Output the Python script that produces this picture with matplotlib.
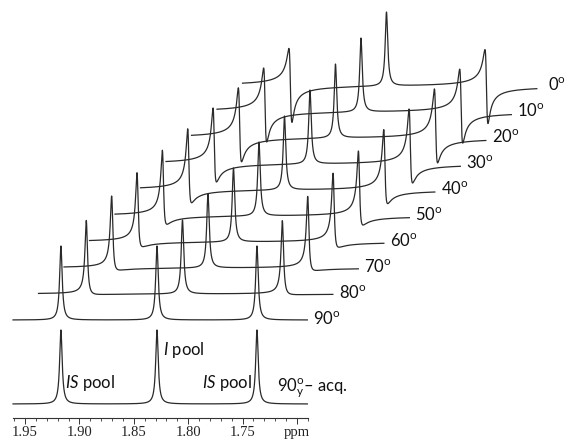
import numpy as np
import matplotlib
matplotlib.use("Agg")
import matplotlib.pyplot as plt
from matplotlib.ticker import FixedLocator, FixedFormatter

plt.rcParams["mathtext.fontset"] = "custom"
plt.rcParams["mathtext.rm"] = "Lato"
plt.rcParams["mathtext.it"] = "Lato:italic"
plt.rcParams["mathtext.bf"] = "Lato:bold"

# ---------------- data ----------------
angles = [90, 80, 70, 60, 50, 40, 30, 20, 10, 0]          # pulse angles of stacked traces
angle_labels = [f"{a}$^\\mathrm{{o}}$" for a in angles]
peak_ppm = [1.917, 1.8287, 1.7368]                          # IS pool, I pool, IS pool
peak_pool = ["IS", "I", "IS"]
peak_height = 74.0                                          # intensity (arb.)
half_width = 0.0014                                         # Lorentzian HWHM, ppm
ref_label = "90$^\\mathrm{o}_\\mathrm{y}$\u2013 acq."
pool_labels = ["$\\mathit{IS}$ pool", "$\\mathit{I}$ pool", "$\\mathit{IS}$ pool"]
tick_values = [1.95, 1.90, 1.85, 1.80, 1.75, 1.70]
tick_labels = ["1.95", "1.90", "1.85", "1.80", "1.75", "ppm"]
minor_values = [round(1.96 - 0.01 * i, 2) for i in range(28)]

# ---------------- layout ----------------
W, H = 570, 443
PX_PER_PPM = 1088.0
x_left = 1.95 + 25 / PX_PER_PPM
x_right = 1.95 - (W - 25) / PX_PER_PPM
span = (1.961, 1.6905)          # ppm range of each trace
dx = 25.5 / PX_PER_PPM          # stacking shift per trace (ppm)
dy = 26.0                       # stacking shift per trace (intensity)
ref_base = 39.0
first_base = 123.0
color = "#2a2a2a"

fig = plt.figure(figsize=(W / 100, H / 100), dpi=100)
ax = fig.add_axes([0, 0, 1, 1])
ax.set_xlim(x_left, x_right)
ax.set_ylim(0, H)

grid = np.linspace(span[0], span[1], 6000)


def spectrum(theta_deg):
    th = np.deg2rad(theta_deg)
    y = np.zeros_like(grid)
    for p, pool in zip(peak_ppm, peak_pool):
        u = (grid - p) / half_width
        if pool == "I":
            y += peak_height / (1 + u ** 2)
        else:
            y += peak_height * (np.sin(th) + np.cos(th) * u) / (1 + u ** 2)
    return y


# reference trace (90y - acq.)
ax.plot(grid, ref_base + spectrum(90), color=color, lw=0.9)

# stacked traces
for k, (a, lab) in enumerate(zip(angles, angle_labels)):
    base = first_base + k * dy
    ax.plot(grid - k * dx, base + spectrum(a), color=color, lw=0.9)
    extra = 5 / PX_PER_PPM if a == 0 else 0
    ax.text(span[1] - k * dx - 6 / PX_PER_PPM - extra, base + 2, lab,
            ha="left", va="center", fontsize=12, family="Lato", color="#111111")

# pool labels on reference trace
ax.text(peak_ppm[0] - 4 / PX_PER_PPM, 60, pool_labels[0], ha="left", va="center",
        fontsize=12, family="Lato", color="#111111")
ax.text(peak_ppm[1] - 6 / PX_PER_PPM, 93, pool_labels[1], ha="left", va="center",
        fontsize=12, family="Lato", color="#111111")
ax.text(peak_ppm[2] + 5 / PX_PER_PPM, 60, pool_labels[2], ha="right", va="center",
        fontsize=12, family="Lato", color="#111111")
ax.text(peak_ppm[2] - 20 / PX_PER_PPM, 55, ref_label, ha="left", va="center",
        fontsize=12, family="Lato", color="#111111")

# ppm axis
for s in ["top", "left", "right"]:
    ax.spines[s].set_visible(False)
ax.spines["bottom"].set_position(("data", H - 418))
ax.spines["bottom"].set_bounds(1.961, 1.69)
ax.spines["bottom"].set_color("#333333")
ax.spines["bottom"].set_linewidth(0.8)
ax.set_yticks([])
ax.xaxis.set_major_locator(FixedLocator(tick_values))
ax.xaxis.set_major_formatter(FixedFormatter(tick_labels))
ax.xaxis.set_minor_locator(FixedLocator(minor_values))
ax.tick_params(axis="x", which="major", direction="out", length=4.5, width=0.7,
               color="#333333", pad=1.5, labelsize=10.5)
ax.tick_params(axis="x", which="minor", direction="out", length=2.2, width=0.6,
               color="#333333")
for t in ax.get_xticklabels():
    t.set_family("Liberation Serif")
    t.set_color("#222222")

fig.savefig("out.png", dpi=100)
